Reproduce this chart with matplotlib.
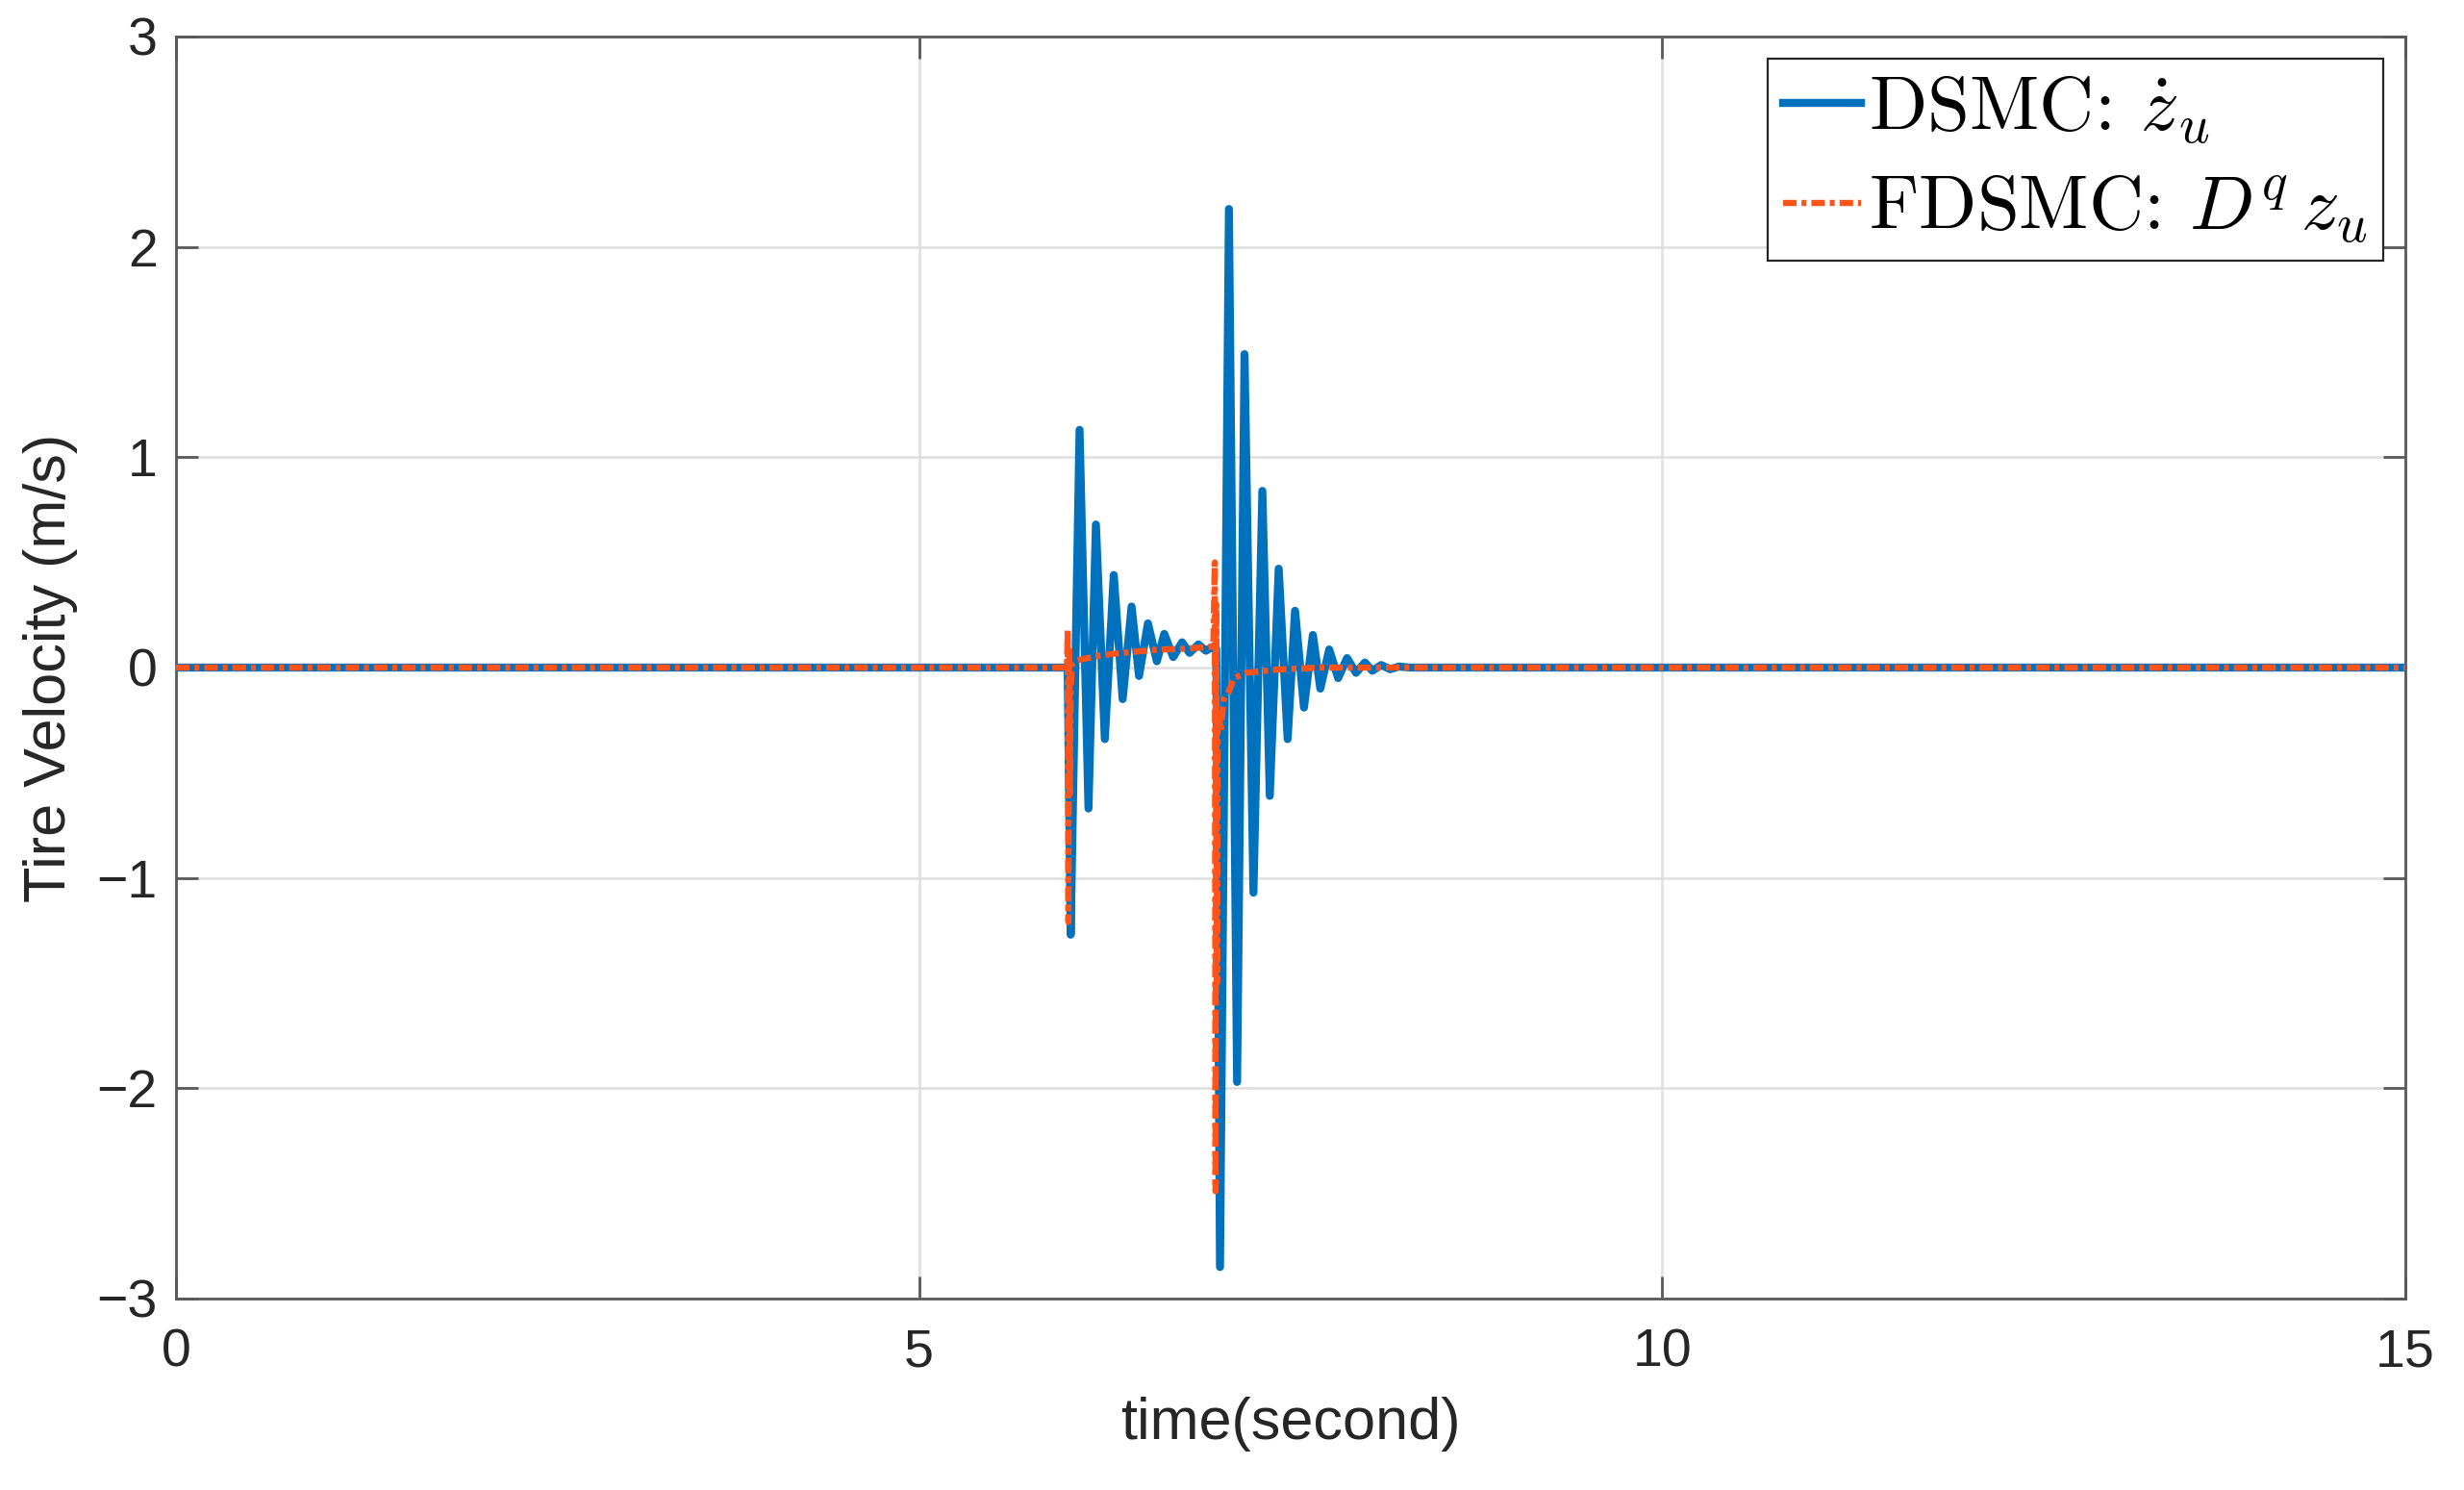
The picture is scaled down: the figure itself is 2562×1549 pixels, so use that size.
import matplotlib
matplotlib.use("Agg")
import matplotlib.pyplot as plt

plt.rcParams["font.family"] = ["Liberation Sans", "DejaVu Sans"]
plt.rcParams["mathtext.fontset"] = "cm"

# DSMC tire velocity: turning points (s, m/s)
dsmc_t = [0.0, 6.0, 6.02, 6.08, 6.14, 6.19, 6.25, 6.31, 6.37, 6.43, 6.48,
          6.54, 6.60, 6.65, 6.71, 6.77, 6.82, 6.88, 6.93, 6.98, 7.0,
          7.025, 7.085, 7.14, 7.19, 7.25, 7.31, 7.36, 7.42, 7.48, 7.53,
          7.59, 7.65, 7.70, 7.76, 7.82, 7.88, 7.94, 8.0, 8.05, 8.11,
          8.17, 8.23, 8.3, 15.0]
dsmc_v = [0.0, 0.0, -1.27, 1.13, -0.67, 0.68, -0.34, 0.44, -0.15, 0.29, -0.04,
          0.21, 0.03, 0.16, 0.05, 0.12, 0.07, 0.11, 0.08, 0.10, 0.09,
          -2.85, 2.18, -1.97, 1.49, -1.07, 0.84, -0.61, 0.47, -0.34, 0.27,
          -0.19, 0.155, -0.10, 0.086, -0.05, 0.045, -0.025, 0.024, -0.015, 0.012,
          -0.008, 0.005, 0.0, 0.0]

# FDSMC tire velocity
fdsmc_t = [0.0, 5.995, 6.0, 6.005, 6.01, 6.015, 6.02, 6.03, 6.05, 6.1,
           6.2, 6.3, 6.45, 6.6, 6.8, 6.98, 6.99, 6.995, 7.0, 7.005,
           7.01, 7.015, 7.03, 7.05, 7.08, 7.12, 7.2, 7.4, 7.7, 15.0]
fdsmc_v = [0.0, 0.0, 0.18, -1.21, 0.1, -0.6, -0.1, 0.02, 0.03, 0.04,
           0.055, 0.065, 0.075, 0.085, 0.09, 0.1, 0.5, -2.49, 0.3, -1.5,
           -0.3, -0.2, -0.3, -0.15, -0.12, -0.05, -0.025, -0.01, 0.0, 0.0]

x_ticks = [0, 5, 10, 15]
y_ticks = [-3, -2, -1, 0, 1, 2, 3]

labels = [r"DSMC: $\dot{z}_u$", r"FDSMC: $D^{q}\,z_u$"]

fig = plt.figure(figsize=(12.81, 7.745), dpi=200)
ax = fig.add_axes([0.07143, 0.12847, 0.9047, 0.8470])

ax.plot(dsmc_t, dsmc_v, color="#0072BD", lw=3.0, label=labels[0],
        solid_joinstyle="round", zorder=3)
ax.plot(fdsmc_t, fdsmc_v, color="#FF5319", lw=2.3, label=labels[1],
        linestyle=(0, (2.2, 0.8, 0.8, 0.8)), zorder=4)

ax.set_xlim(0, 15)
ax.set_ylim(-3, 3)
ax.set_xticks(x_ticks)
ax.set_yticks(y_ticks)
ax.grid(True, color="#dfdfdf", lw=0.9)
ax.set_axisbelow(True)

for side in ax.spines.values():
    side.set_color("#595959")
    side.set_linewidth(1.0)
ax.tick_params(direction="in", length=8.3, width=1.0, color="#595959",
               labelsize=20, labelcolor="#262626",
               top=True, right=True)
ax.tick_params(axis="x", pad=11)
ax.tick_params(axis="y", pad=7)

ax.set_xlabel("time(second)", fontsize=22, color="#262626", labelpad=7)
ax.set_ylabel("Tire Velocity (m/s)", fontsize=22, color="#262626", labelpad=7)

leg = ax.legend(loc="upper right", bbox_to_anchor=(0.9901, 0.9825),
                borderaxespad=0, prop={"family": "cmr10", "size": 28.5},
                handlelength=1.03, handletextpad=0.1, borderpad=0.2,
                labelspacing=0.36, fancybox=False, framealpha=1)
leg.get_frame().set_edgecolor("#262626")
leg.get_frame().set_linewidth(0.8)

fig.savefig("out.png", dpi=200)
